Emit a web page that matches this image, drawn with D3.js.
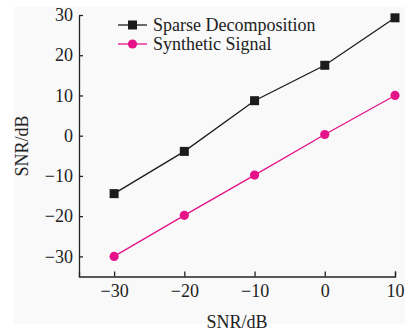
<!DOCTYPE html>
<html>
<head>
<meta charset="utf-8">
<script src="https://cdn.jsdelivr.net/npm/d3@7"></script>
<style>
  html, body { margin: 0; padding: 0; background: #ffffff; }
  svg { display: block; font-family: "Liberation Serif", "Times New Roman", serif; }
</style>
</head>
<body>
<svg id="chart" width="413" height="331"></svg>
<script>
// Input SNR levels (dB)
const inputSNR = [-30, -20, -10, 0, 10];
// Output SNR for each method (dB)
const sparseDecomposition = [-14.4, -3.9, 8.7, 17.5, 29.3];
const syntheticSignal = [-30, -19.8, -9.8, 0.3, 10];
const seriesNames = ["Sparse Decomposition", "Synthetic Signal"];
const xTicks = [-30, -20, -10, 0, 10];
const yTicks = [-30, -20, -10, 0, 10, 20, 30];

const svg = d3.select("#chart");
const FONT = "'Liberation Serif', 'Times New Roman', serif";
const FS = 18;

svg.append("rect").attr("x", 14).attr("y", 7).attr("width", 391).attr("height", 317).attr("fill", "#f9f9f9");

const x = d3.scaleLinear().domain([-35, 10]).range([79, 395]);
const y = d3.scaleLinear().domain([-35, 30]).range([276.5, 15]);

const fmt = d => (d < 0 ? "\u2212" + Math.abs(d) : String(d));

const gx = svg.append("g").attr("transform", `translate(0,${y(-35)})`)
  .call(d3.axisBottom(x).tickValues(xTicks).tickSizeInner(-5).tickSizeOuter(-5).tickPadding(8).tickFormat(fmt));
const gy = svg.append("g").attr("transform", `translate(${x(-35)},0)`)
  .call(d3.axisLeft(y).tickValues(yTicks).tickSizeInner(-4).tickSizeOuter(0).tickPadding(6).tickFormat(fmt));

[gx, gy].forEach(g => {
  g.selectAll("path, line").attr("stroke", "#222").attr("stroke-width", 1.3);
  g.selectAll("text").attr("fill", "#222").attr("font-size", FS).attr("font-family", FONT);
});

svg.append("text").attr("x", 237).attr("y", 328).attr("text-anchor", "middle")
  .attr("font-size", FS).attr("font-family", FONT).attr("fill", "#222").text("SNR/dB");
svg.append("text").attr("transform", "translate(28,146) rotate(-90)").attr("text-anchor", "middle")
  .attr("font-size", FS).attr("font-family", FONT).attr("fill", "#222").text("SNR/dB");

const colors = ["#1c1c1c", "#e5128a"];
const allSeries = [sparseDecomposition, syntheticSignal];
const line = d3.line().x((d, i) => x(inputSNR[i])).y(d => y(d));

allSeries.forEach((vals, k) => {
  svg.append("path").datum(vals).attr("d", line).attr("fill", "none")
    .attr("stroke", colors[k]).attr("stroke-width", 1.3);
  const pts = svg.append("g").selectAll(k === 0 ? "rect" : "circle").data(vals).join(k === 0 ? "rect" : "circle");
  if (k === 0) {
    pts.attr("x", (d, i) => x(inputSNR[i]) - 4.5).attr("y", d => y(d) - 4.5)
      .attr("width", 9).attr("height", 9).attr("fill", colors[k]);
  } else {
    pts.attr("cx", (d, i) => x(inputSNR[i])).attr("cy", d => y(d)).attr("r", 4.6).attr("fill", colors[k]);
  }
});

// Legend
const legend = svg.append("g");
seriesNames.forEach((name, k) => {
  const ly = 25 + k * 19;
  legend.append("line").attr("x1", 118).attr("x2", 147).attr("y1", ly).attr("y2", ly)
    .attr("stroke", colors[k]).attr("stroke-width", 1.3);
  if (k === 0) {
    legend.append("rect").attr("x", 132.5 - 4.5).attr("y", ly - 4.5).attr("width", 9).attr("height", 9).attr("fill", colors[k]);
  } else {
    legend.append("circle").attr("cx", 132.5).attr("cy", ly).attr("r", 4.6).attr("fill", colors[k]);
  }
  legend.append("text").attr("x", 153).attr("y", ly + 5.5).attr("font-size", FS).attr("font-family", FONT)
    .attr("fill", "#222").text(name);
});
</script>
</body>
</html>
